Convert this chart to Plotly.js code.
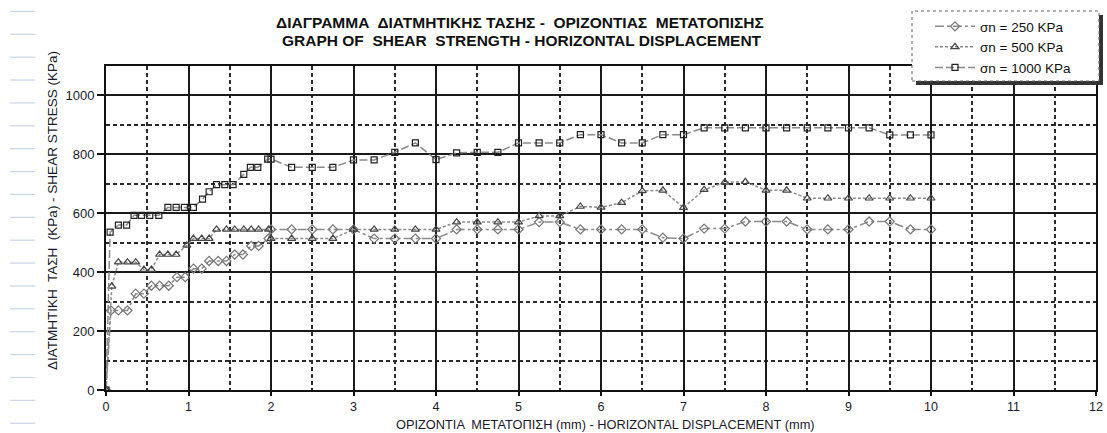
<!DOCTYPE html>
<html>
<head>
<meta charset="utf-8">
<script src="https://cdn.plot.ly/plotly-3.0.1.min.js"></script>
<style>html,body{margin:0;padding:0;background:#fff;}#chart{width:1107px;height:433px;}</style>
</head>
<body>
<div id="chart"></div>
<script>
// ---- Data ----
const x250 = [0, 0.06, 0.15, 0.26, 0.36, 0.46, 0.55, 0.65, 0.76, 0.86, 0.96, 1.06, 1.16, 1.25, 1.36, 1.46, 1.56, 1.66, 1.76, 1.85, 1.97, 2.0, 2.25, 2.5, 2.75, 3.0, 3.25, 3.5, 3.75, 4.0, 4.25, 4.5, 4.75, 5.0, 5.25, 5.5, 5.75, 6.0, 6.25, 6.5, 6.75, 7.0, 7.25, 7.5, 7.75, 8.0, 8.25, 8.5, 8.75, 9.0, 9.25, 9.5, 9.75, 10.0];
const y250 = [0, 270, 270, 270, 327, 327, 354, 354, 354, 383, 383, 412, 412, 438, 438, 438, 460, 460, 489, 489, 514, 545, 545, 545, 545, 545, 514, 514, 514, 514, 545, 545, 545, 545, 570, 570, 545, 545, 545, 545, 517, 514, 548, 548, 572, 572, 572, 545, 545, 545, 572, 572, 545, 545];

const x500 = [0, 0.07, 0.15, 0.26, 0.36, 0.46, 0.55, 0.65, 0.75, 0.85, 0.98, 1.06, 1.16, 1.25, 1.34, 1.46, 1.56, 1.67, 1.76, 1.85, 1.97, 2.0, 2.25, 2.5, 2.75, 3.0, 3.25, 3.5, 3.75, 4.0, 4.25, 4.5, 4.75, 5.0, 5.25, 5.5, 5.75, 6.0, 6.25, 6.5, 6.75, 7.0, 7.25, 7.5, 7.75, 8.0, 8.25, 8.5, 8.75, 9.0, 9.25, 9.5, 9.75, 10.0];
const y500 = [0, 352, 434, 434, 434, 409, 409, 460, 460, 460, 491, 514, 514, 514, 545, 545, 545, 545, 545, 545, 545, 514, 514, 514, 514, 545, 545, 545, 545, 545, 570, 570, 570, 570, 591, 591, 623, 620, 636, 676, 678, 619, 680, 705, 707, 678, 678, 651, 651, 651, 651, 651, 651, 651];

const x1000 = [0, 0.05, 0.15, 0.25, 0.34, 0.43, 0.53, 0.64, 0.75, 0.85, 0.95, 1.06, 1.17, 1.25, 1.34, 1.44, 1.54, 1.67, 1.75, 1.84, 1.96, 2.0, 2.25, 2.5, 2.75, 3.0, 3.25, 3.5, 3.75, 4.0, 4.25, 4.5, 4.75, 5.0, 5.25, 5.5, 5.75, 6.0, 6.25, 6.5, 6.75, 7.0, 7.25, 7.5, 7.75, 8.0, 8.25, 8.5, 8.75, 9.0, 9.25, 9.5, 9.75, 10.0];
const y1000 = [0, 536, 560, 560, 593, 593, 593, 593, 620, 620, 620, 620, 648, 673, 697, 697, 697, 732, 756, 756, 784, 784, 756, 756, 756, 781, 781, 807, 839, 782, 805, 807, 807, 839, 839, 839, 867, 867, 839, 839, 867, 867, 890, 890, 890, 890, 890, 890, 890, 890, 890, 866, 866, 866];

const seriesNames = ["σn = 250 KPa", "σn = 500 KPa", "σn = 1000 KPa"];
const titleLine1 = "ΔΙΑΓΡΑΜΜΑ  ΔΙΑΤΜΗΤΙΚΗΣ ΤΑΣΗΣ -  ΟΡΙΖΟΝΤΙΑΣ  ΜΕΤΑΤΟΠΙΣΗΣ";
const titleLine2 = "GRAPH OF  SHEAR  STRENGTH - HORIZONTAL DISPLACEMENT";
const xTitle = "ΟΡΙΖΟΝΤΙΑ  ΜΕΤΑΤΟΠΙΣΗ (mm) - HORIZONTAL DISPLACEMENT (mm)";
const yTitle = "ΔΙΑΤΜΗΤΙΚΗ  ΤΑΣΗ  (KPa) - SHEAR STRESS (KPa)";
const xTicks = [0,1,2,3,4,5,6,7,8,9,10,11,12];
const yTicks = [0,200,400,600,800,1000];

const FONT = "Liberation Sans, Arial, sans-serif";

const traces = [
  {x: x250, y: y250, name: seriesNames[0], mode: "lines+markers", legendgroup: "a",
   line: {color: "#8a8a8a", width: 1.5, dash: "9px,3px,3px,3px"},
   marker: {symbol: "diamond-open", size: 7, color: "#777", line: {width: 1.2}}},
  {x: x500, y: y500, name: seriesNames[1], mode: "lines+markers", legendgroup: "b",
   line: {color: "#8a8a8a", width: 1.5, dash: "3px,2px"},
   marker: {symbol: "triangle-up-open", size: 7, color: "#444", line: {width: 1.2}}},
  {x: x1000, y: y1000, name: seriesNames[2], mode: "lines+markers", legendgroup: "c",
   line: {color: "#8a8a8a", width: 1.5, dash: "8px,3px"},
   marker: {symbol: "square-open", size: 6, color: "#222", line: {width: 1.2}}}
];

// plot area in pixels: x 106..1096, y 66..390
const L = 106, R = 11, T = 66, B = 43, W = 1107, H = 433;
const pw = W - L - R, ph = H - T - B;
const px2x = p => (p - L) / pw;
const py2y = p => (H - B - p) / ph;

const shapes = [];
// light-blue sheet artifacts on the left margin
for (let k = 0; k < 19; k++) {
  const yy = 11.4 + 22.88 * k;
  shapes.push({type: "line", xref: "paper", yref: "paper", layer: "above",
    x0: px2x(10), x1: px2x(35), y0: py2y(yy), y1: py2y(yy),
    line: {color: "#c9d5e8", width: 1.2}});
}
// legend shadow and box
shapes.push({type: "rect", xref: "paper", yref: "paper", layer: "above",
  x0: px2x(916), x1: px2x(1103), y0: py2y(85), y1: py2y(15),
  fillcolor: "#333", line: {width: 0}});
shapes.push({type: "rect", xref: "paper", yref: "paper", layer: "above",
  x0: px2x(912), x1: px2x(1099), y0: py2y(81), y1: py2y(11),
  fillcolor: "#fff", line: {color: "#666", width: 1, dash: "dot"}});

const axisCommon = {
  showline: true, mirror: true, linecolor: "#111", linewidth: 2,
  showgrid: true, gridcolor: "#1a1a1a", gridwidth: 2,
  zeroline: false, ticks: "outside", tickcolor: "#111", tickwidth: 2,
  tickfont: {family: FONT, size: 13, color: "#1a1a2a"}
};

const layout = {
  width: W, height: H,
  margin: {l: L, r: R, t: T, b: B, pad: 0},
  paper_bgcolor: "#fff", plot_bgcolor: "#fff",
  font: {family: FONT, color: "#111"},
  xaxis: Object.assign({}, axisCommon, {
    range: [0, 12], tickvals: xTicks, ticktext: xTicks.map(String), ticklen: 4,
    tickfont: {family: FONT, size: 12.5, color: "#1a1a2a"},
    minor: {dtick: 0.5, tick0: 0, showgrid: true, gridcolor: "#2a2a2a", gridwidth: 2, griddash: "4px,3px", ticks: ""}
  }),
  yaxis: Object.assign({}, axisCommon, {
    range: [0, 1100], tickvals: yTicks, ticktext: yTicks.map(String), ticklen: 7,
    minor: {dtick: 100, tick0: 0, showgrid: true, gridcolor: "#2a2a2a", gridwidth: 2, griddash: "4px,3px", ticks: ""}
  }),
  showlegend: true,
  legend: {x: px2x(930), y: py2y(11), xanchor: "left", yanchor: "top",
    bgcolor: "rgba(0,0,0,0)", borderwidth: 0,
    font: {family: FONT, size: 13.5, color: "#111"},
    tracegroupgap: 0, itemwidth: 40},
  shapes: shapes,
  annotations: [
    {text: "<b>" + titleLine1 + "</b>", xref: "paper", yref: "paper", x: px2x(520), y: py2y(22.7),
     xanchor: "center", yanchor: "middle", showarrow: false,
     font: {family: FONT, size: 15.5, color: "#111"}},
    {text: "<b>" + titleLine2 + "</b>", xref: "paper", yref: "paper", x: px2x(522), y: py2y(40.5),
     xanchor: "center", yanchor: "middle", showarrow: false,
     font: {family: FONT, size: 15.5, color: "#111"}},
    {text: xTitle, xref: "paper", yref: "paper", x: px2x(605), y: py2y(424.5),
     xanchor: "center", yanchor: "middle", showarrow: false,
     font: {family: FONT, size: 12.8, color: "#1a1a2a"}},
    {text: yTitle, xref: "paper", yref: "paper", x: px2x(52), y: py2y(211),
     xanchor: "center", yanchor: "middle", showarrow: false, textangle: -90,
     font: {family: FONT, size: 13.5, color: "#1a1a2a"}}
  ]
};

Plotly.newPlot("chart", traces, layout, {displayModeBar: false, staticPlot: true});
</script>
</body>
</html>
